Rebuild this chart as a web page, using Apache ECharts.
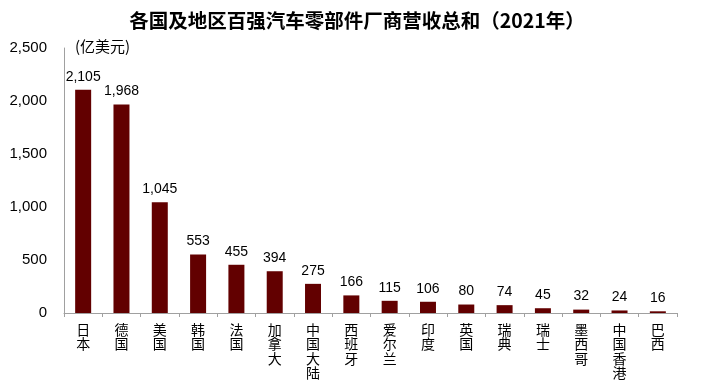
<!DOCTYPE html>
<html>
<head>
<meta charset="utf-8">
<script src="https://cdn.jsdelivr.net/npm/echarts@6/dist/echarts.min.js"></script>
<style>html,body{margin:0;padding:0;background:#fff}#c{width:719px;height:390px}</style>
</head>
<body>
<div id="c"></div>
<script>
var categories = ['日本','德国','美国','韩国','法国','加拿大','中国大陆','西班牙','爱尔兰','印度','英国','瑞典','瑞士','墨西哥','中国香港','巴西'];
var values = [2105, 1968, 1045, 553, 455, 394, 275, 166, 115, 106, 80, 74, 45, 32, 24, 16];
var yTicks = [0, 500, 1000, 1500, 2000, 2500];

function fmt(v){ return String(v).replace(/\B(?=(\d{3})+(?!\d))/g, ','); }

var chart = echarts.init(document.getElementById('c'));
chart.setOption({
  animation: false,
  title: {
    text: '各国及地区百强汽车零部件厂商营收总和（2021年）',
    left: 352, top: 6, textAlign: 'center',
    textStyle: {fontFamily: 'Noto Sans CJK SC', fontSize: 19.5, fontWeight: 'bold', color: '#000'}
  },
  graphic: [{
    type: 'text', left: 75, top: 39,
    style: {text: '(亿美元)', font: '15px "Noto Sans CJK SC"', fill: '#000'}
  }],
  grid: {left: 64, right: 42, top: 48, bottom: 77, containLabel: false},
  xAxis: {
    type: 'category', data: categories,
    axisLine: {lineStyle: {color: '#a0a0a0', width: 1}},
    axisTick: {show: true, alignWithLabel: false, length: 4, lineStyle: {color: '#a0a0a0'}},
    axisLabel: {
      interval: 0, margin: 9, color: '#000', fontSize: 14, lineHeight: 14.5,
      fontFamily: 'Noto Sans CJK SC',
      formatter: function(v){ return v.split('').join('\n'); }
    }
  },
  yAxis: {
    type: 'value', min: yTicks[0], max: yTicks[yTicks.length-1], interval: 500,
    splitLine: {show: false},
    axisLine: {show: true, lineStyle: {color: '#a0a0a0', width: 1}},
    axisTick: {show: false},
    axisLabel: {margin: 17, color: '#000', fontSize: 15, fontFamily: 'Liberation Sans', formatter: fmt}
  },
  series: [{
    type: 'bar', data: values, barWidth: 16,
    itemStyle: {color: '#620000'},
    label: {show: true, position: 'top', distance: 6, color: '#000', fontSize: 14,
      fontFamily: 'Liberation Sans', formatter: function(p){ return fmt(p.value); }}
  }]
});
</script>
</body>
</html>
